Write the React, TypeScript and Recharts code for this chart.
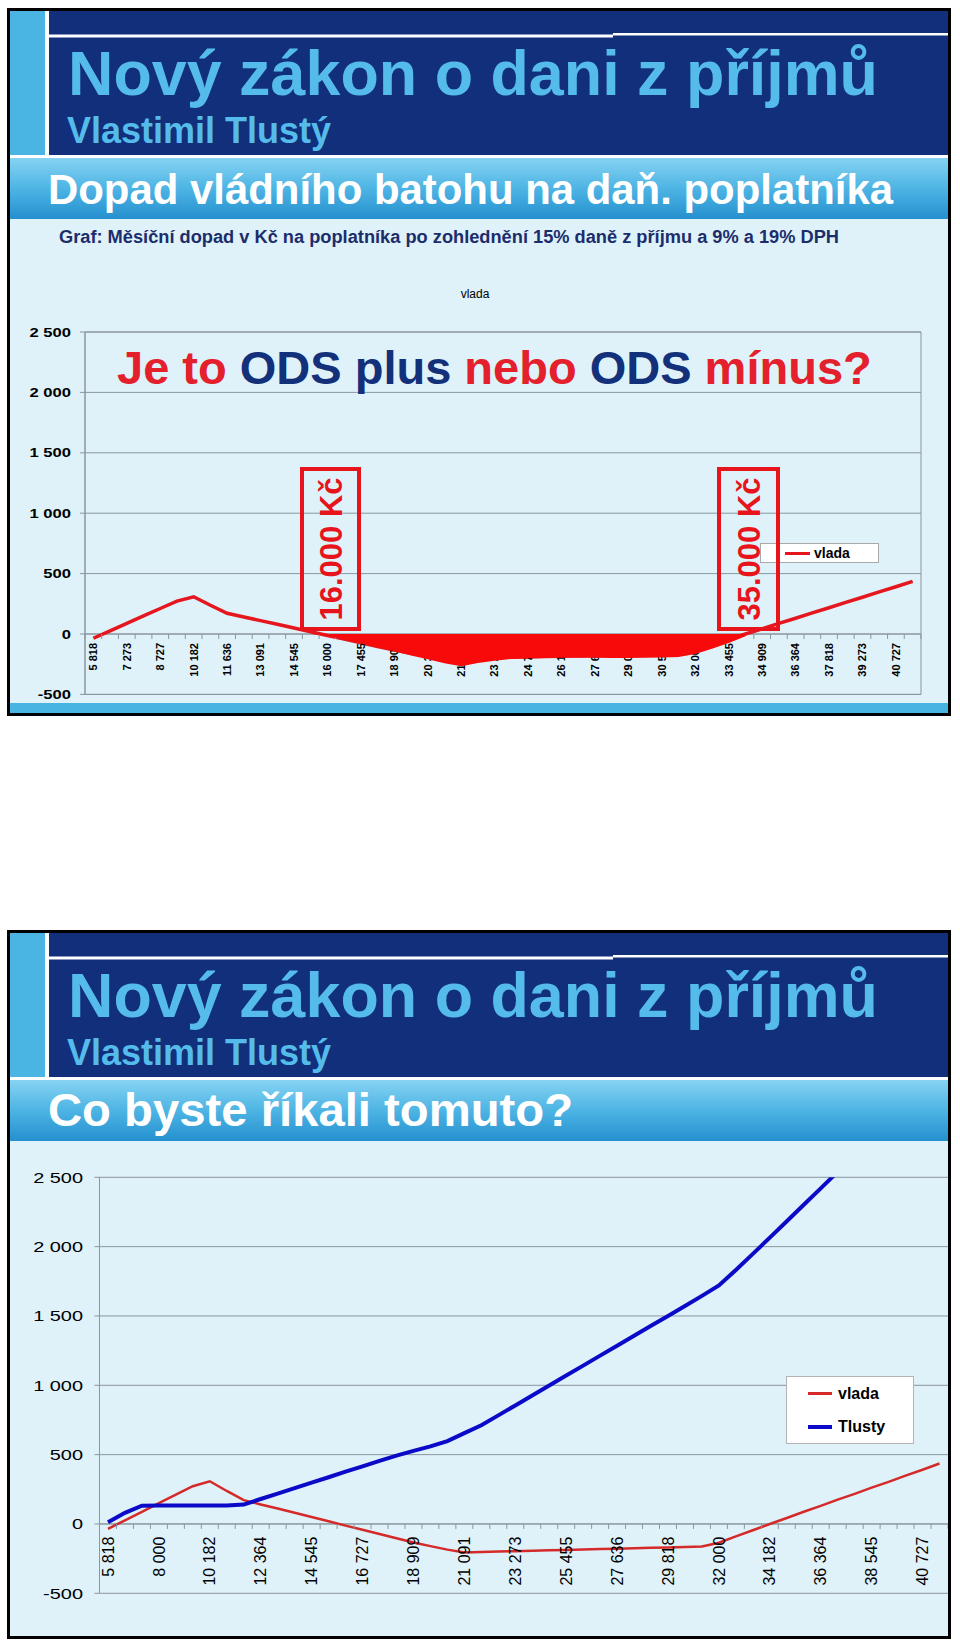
import React from 'react';
import {
    Area,
    CartesianGrid,
    ComposedChart,
    Legend,
    Line,
    ReferenceArea,
    ReferenceLine,
    XAxis,
    YAxis,
} from 'recharts';

// hrubý měsíční příjem (Kč)
const prijmy = [
    5818, 6545, 7273, 8000, 8727, 9455, 10182, 10909, 11636, 12364,
    13091, 13818, 14545, 15273, 16000, 16727, 17455, 18182, 18909, 19636,
    20364, 21091, 21818, 22545, 23273, 24000, 24727, 25455, 26182, 26909,
    27636, 28364, 29091, 29818, 30545, 31273, 32000, 32727, 33455, 34182,
    34909, 35636, 36364, 37091, 37818, 38545, 39273, 40000, 40727, 41455,
];

// měsíční dopad v Kč - vládní balíček
const vlada = [
    -35, 26, 88, 150, 211, 272, 308, 238, 172, 141,
    111, 81, 50, 19, -12, -42, -72, -103, -133, -160,
    -185, -205, -202, -199, -196, -193, -190, -187, -184, -181,
    -178, -175, -172, -169, -166, -162, -135, -90, -45, 0,
    43, 88, 130, 175, 217, 262, 304, 349, 391, 436,
];

// měsíční dopad v Kč - návrh Tlustý (nad 2 500 je graf oříznutý)
const tlusty = [
    12, 80, 132, 133, 133, 133, 133, 134, 140, 180,
    219, 258, 298, 337, 377, 416, 455, 493, 527, 560,
    598, 655, 712, 783, 855, 927, 998, 1070, 1142, 1214,
    1285, 1357, 1429, 1500, 1572, 1645, 1720, 1832, 1948, 2065,
    2183, 2302, 2420, 2540, 2660, null, null, null, null, null,
];

// ručně domalovaná červená plocha v prvním grafu
const zvyrazneni = [
    null, null, null, null, null, null, null, null, null, null,
    null, null, null, 0, -12, -44, -77, -110, -143, -177,
    -210, -242, -266, -240, -222, -205, -200, -198, -197, -197,
    -197, -198, -198, -197, -195, -190, -165, -122, -75, -18,
    null, null, null, null, null, null, null, null, null, null,
];

const osaY = [-500, 0, 500, 1000, 1500, 2000, 2500];

const data = prijmy.map((prijem, i) => ({
    prijem,
    vlada: vlada[i],
    tlusty: tlusty[i],
    zvyrazneni: zvyrazneni[i],
}));

const FONT = '"Liberation Sans", Arial, Helvetica, sans-serif';
const GRID = '#8a979f';

const fmt = (v: number): string =>
    v < 0 ? '-' + fmt(-v) : String(v).replace(/\B(?=(\d{3})+(?!\d))/g, ' ');

const makeXTick = (zeroY: number, bw: number, every: number, size: number, weight: string, gap: number) =>
    (props: any) => {
        const { x, index, payload } = props;
        const last = index === prijmy.length - 1;
        return (
            <g>
                <line x1={x - bw / 2} x2={x - bw / 2} y1={zeroY} y2={zeroY + 5} stroke={GRID} />
                {last && <line x1={x + bw / 2} x2={x + bw / 2} y1={zeroY} y2={zeroY + 5} stroke={GRID} />}
                {index % every === 0 && (
                    <text
                        transform={`translate(${x},${zeroY + gap}) rotate(-90)`}
                        textAnchor="end"
                        dy="0.35em"
                        fontSize={size}
                        fontWeight={weight}
                        fontFamily={FONT}
                        fill="#000"
                    >
                        {fmt(payload.value)}
                    </text>
                )}
            </g>
        );
    };

const makeYTick = (size: number, weight: string) => (props: any) => {
    const { x, y, payload } = props;
    return (
        <text
            transform={`translate(${x},${y}) scale(1.33,1)`}
            textAnchor="end"
            dy="0.36em"
            fontSize={size}
            fontWeight={weight}
            fontFamily={FONT}
            fill="#000"
        >
            {fmt(payload.value)}
        </text>
    );
};

type SlideProps = {
    top: number;
    height: number;
    id: string;
    nadpis: string;
    nadpisSize: number;
    nadpisWidth: number;
    pruh?: boolean;
    children?: React.ReactNode;
};

const Slide = ({ top, height, id, nadpis, nadpisSize, nadpisWidth, pruh, children }: SlideProps) => (
    <div style={{ position: 'absolute', left: 7, top, width: 944, height, overflow: 'hidden', background: '#fff' }}>
        <svg width={944} height={height} style={{ position: 'absolute', left: 0, top: 0 }} fontFamily={FONT}>
            <defs>
                <linearGradient id={id} x1="0" y1="0" x2="0" y2="1">
                    <stop offset="0" stopColor="#86d3f2" />
                    <stop offset="0.5" stopColor="#4db4e4" />
                    <stop offset="1" stopColor="#2590cf" />
                </linearGradient>
            </defs>
            <rect x={0} y={211} width={944} height={height - 211} fill="#dff1f9" />
            <rect x={2} y={2} width={36} height={145} fill="#4ab5e3" />
            <rect x={42} y={2} width={902} height={145} fill="#112f7a" />
            <rect x={42} y={26.5} width={564} height={3} fill="#fff" />
            <rect x={606} y={25} width={338} height={2.5} fill="#fff" />
            <text x={61} y={86.5} fontSize={63} fontWeight="bold" fill="#55bbea" textLength={810} lengthAdjust="spacingAndGlyphs">
                Nový zákon o dani z příjmů
            </text>
            <text x={60} y={135} fontSize={36} fontWeight="bold" fill="#55bbea">
                Vlastimil Tlustý
            </text>
            <rect x={0} y={150} width={944} height={61} fill={`url(#${id})`} />
            <text x={41} y={196} fontSize={nadpisSize} fontWeight="bold" fill="#fff" textLength={nadpisWidth} lengthAdjust="spacingAndGlyphs">
                {nadpis}
            </text>
            {pruh && <rect x={2} y={695} width={940} height={10} fill="#46b5e1" />}
        </svg>
        {children}
        <div style={{ position: 'absolute', left: 0, top: 0, right: 0, bottom: 0, border: '3px solid #000', boxSizing: 'border-box' }} />
    </div>
);

const boxStyle = (left: number, width: number): React.CSSProperties => ({
    position: 'absolute',
    left,
    top: 458.7,
    width,
    height: 164,
    border: '4px solid #e8141c',
    boxSizing: 'border-box',
});

const boxText: React.CSSProperties = {
    position: 'absolute',
    left: '50%',
    top: '50%',
    transform: 'translate(-50%, -50%) rotate(-90deg)',
    whiteSpace: 'nowrap',
    fontFamily: FONT,
    fontWeight: 'bold',
    fontSize: 31,
    color: '#e8141c',
    lineHeight: 1,
};

// první graf
const W1 = 930;
const H1 = 420;
const M1 = { top: 34, right: 16, bottom: 7.6, left: 18 };
const plotH1 = H1 - M1.top - M1.bottom - 16;
const zero1 = M1.top + (plotH1 * 2500) / 3000;
const bw1 = (W1 - M1.left - 60 - M1.right) / prijmy.length;
// stejná plocha grafu bez os - pro červenou plochu přes popisky
const M1plocha = { top: M1.top, right: M1.right, bottom: M1.bottom + 16, left: M1.left + 60 };

// druhý graf
const W2 = 941;
const H2 = 470;
const M2 = { top: 27.3, right: 0, bottom: 10.7, left: 32.5 };
const plotH2 = H2 - M2.top - M2.bottom - 16;
const zero2 = M2.top + (plotH2 * 2500) / 3000;
const bw2 = (W2 - M2.left - 60 - M2.right) / prijmy.length;

const Legenda1 = () => (
    <div style={{ position: 'relative', width: 119, height: 20.6, background: '#fff', border: '1px solid #a9a9a9', boxSizing: 'border-box', fontFamily: FONT }}>
        <div style={{ position: 'absolute', left: 24, top: 8, width: 25, height: 3, background: '#e5161d' }} />
        <div style={{ position: 'absolute', left: 53, top: 2, fontSize: 14, fontWeight: 'bold', lineHeight: '15px' }}>vlada</div>
    </div>
);

const Legenda2 = () => (
    <div style={{ position: 'relative', width: 128, height: 68.6, background: '#fff', border: '1px solid #b3b3b3', boxSizing: 'border-box', fontFamily: FONT }}>
        <div style={{ position: 'absolute', left: 21, top: 15.5, width: 24, height: 2.5, background: '#d42a2a' }} />
        <div style={{ position: 'absolute', left: 51, top: 8, fontSize: 16, fontWeight: 'bold', lineHeight: '18px' }}>vlada</div>
        <div style={{ position: 'absolute', left: 21, top: 48, width: 24, height: 4, background: '#0a0ac8' }} />
        <div style={{ position: 'absolute', left: 51, top: 41, fontSize: 16, fontWeight: 'bold', lineHeight: '18px' }}>Tlusty</div>
    </div>
);

const App = () => (
    <div style={{ position: 'absolute', left: 0, top: 0, width: 960, height: 1646, background: '#fff' }}>
        <Slide top={8} height={708} id="pas1" nadpis="Dopad vládního batohu na daň. poplatníka" nadpisSize={43} nadpisWidth={845} pruh>
            <svg width={944} height={300} style={{ position: 'absolute', left: 0, top: 0 }} fontFamily={FONT}>
                <text x={52} y={235} fontSize={18} fontWeight="bold" fill="#1c2d6b" textLength={780} lengthAdjust="spacingAndGlyphs">
                    Graf: Měsíční dopad v Kč na poplatníka po zohlednění 15% daně z příjmu a 9% a 19% DPH
                </text>
                <text x={468} y={289.7} fontSize={12} textAnchor="middle" fill="#000">
                    vlada
                </text>
            </svg>
            <div style={{ position: 'absolute', left: 0, top: 290 }}>
                <ComposedChart width={W1} height={H1} data={data} margin={M1} style={{ fontFamily: FONT }}>
                    <CartesianGrid horizontal vertical={false} stroke={GRID} />
                    <ReferenceArea y1={-500} y2={2500} fill="none" stroke={GRID} ifOverflow="visible" />
                    <YAxis
                        type="number"
                        domain={[-500, 2500]}
                        ticks={osaY}
                        interval={0}
                        width={60}
                        tickSize={5}
                        tickMargin={9}
                        stroke={GRID}
                        tick={makeYTick(12.5, 'bold')}
                    />
                    <XAxis
                        dataKey="prijem"
                        scale="band"
                        interval={0}
                        height={16}
                        axisLine={false}
                        tickLine={false}
                        tick={makeXTick(zero1, bw1, 2, 11, 'bold', 9)}
                    />
                    <ReferenceLine y={0} stroke={GRID} />
                    <Line
                        dataKey="vlada"
                        type="linear"
                        stroke="#e5161d"
                        strokeWidth={3.5}
                        dot={false}
                        activeDot={false}
                        isAnimationActive={false}
                    />
                    <Legend
                        layout="vertical"
                        verticalAlign="middle"
                        align="center"
                        wrapperStyle={{ left: 753, top: 244.7, width: 119, height: 20.6 }}
                        content={() => <Legenda1 />}
                    />
                </ComposedChart>
            </div>
            {/* červená plocha leží v originále přes popisky osy */}
            <div style={{ position: 'absolute', left: 0, top: 290 }}>
                <ComposedChart width={W1} height={H1} data={data} margin={M1plocha}>
                    <YAxis type="number" domain={[-500, 2500]} hide />
                    <XAxis dataKey="prijem" scale="band" hide />
                    <Area
                        dataKey="zvyrazneni"
                        type="linear"
                        baseValue={0}
                        fill="#f80a0a"
                        fillOpacity={1}
                        stroke="none"
                        connectNulls={false}
                        isAnimationActive={false}
                    />
                </ComposedChart>
            </div>
            <div style={boxStyle(293, 61)}>
                <span style={boxText}>16.000 Kč</span>
            </div>
            <div style={boxStyle(710, 63)}>
                <span style={boxText}>35.000 Kč</span>
            </div>
            <svg width={944} height={420} style={{ position: 'absolute', left: 0, top: 0 }} fontFamily={FONT}>
                <text x={110} y={376} fontSize={47} fontWeight="bold">
                    <tspan fill="#e3202b">Je to </tspan>
                    <tspan fill="#13307a">ODS plus </tspan>
                    <tspan fill="#e3202b">nebo </tspan>
                    <tspan fill="#13307a">ODS </tspan>
                    <tspan fill="#e3202b">mínus?</tspan>
                </text>
            </svg>
        </Slide>

        <Slide top={930} height={709} id="pas2" nadpis="Co byste říkali tomuto?" nadpisSize={46} nadpisWidth={525}>
            <div style={{ position: 'absolute', left: 0, top: 220 }}>
                <ComposedChart width={W2} height={H2} data={data} margin={M2} style={{ fontFamily: FONT }}>
                    <CartesianGrid horizontal vertical={false} stroke={GRID} />
                    <YAxis
                        type="number"
                        domain={[-500, 2500]}
                        ticks={osaY}
                        interval={0}
                        allowDataOverflow
                        width={60}
                        tickSize={5}
                        tickMargin={11.5}
                        stroke={GRID}
                        tick={makeYTick(15, 'normal')}
                    />
                    <XAxis
                        dataKey="prijem"
                        scale="band"
                        interval={0}
                        height={16}
                        axisLine={false}
                        tickLine={false}
                        tick={makeXTick(zero2, bw2, 3, 16, 'normal', 12.7)}
                    />
                    <ReferenceLine y={0} stroke={GRID} />
                    <Line
                        dataKey="vlada"
                        type="linear"
                        stroke="#d42a2a"
                        strokeWidth={2.5}
                        dot={false}
                        activeDot={false}
                        isAnimationActive={false}
                    />
                    <Line
                        dataKey="tlusty"
                        type="linear"
                        stroke="#0a0ac8"
                        strokeWidth={4}
                        dot={false}
                        activeDot={false}
                        isAnimationActive={false}
                    />
                    <Legend
                        layout="vertical"
                        verticalAlign="middle"
                        align="center"
                        wrapperStyle={{ left: 779, top: 225.7, width: 128, height: 68.6 }}
                        content={() => <Legenda2 />}
                    />
                </ComposedChart>
            </div>
        </Slide>
    </div>
);

export default App;
